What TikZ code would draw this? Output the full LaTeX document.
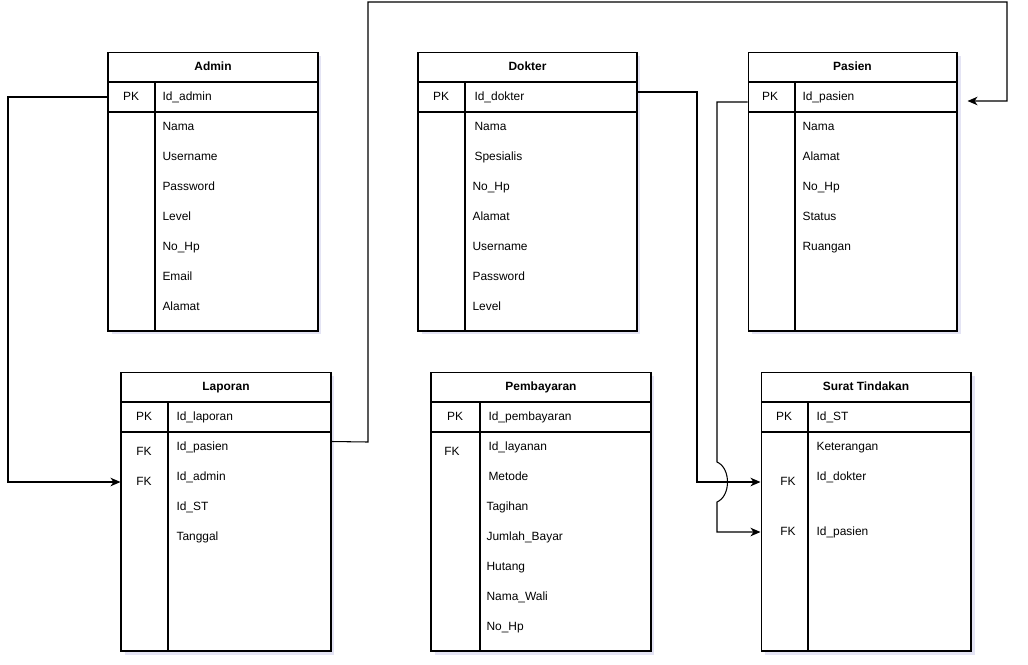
\documentclass[tikz,border=0pt]{standalone}
\usepackage{fontspec}
\setmainfont{Liberation Sans}
\usetikzlibrary{arrows.meta,calc,shadows}

\begin{document}
\begin{tikzpicture}[x=0.02cm,y=-0.02cm,line width=0.6pt,
    >={Stealth[length=2mm,width=1.7mm,inset=0.6mm]},
    every node/.style={font=\fontsize{6.8}{8}\selectfont},
    tbl/.style={draw,rectangle,inner sep=0pt,fill=white,minimum height=5.58cm,
      drop shadow={shadow xshift=2pt,shadow yshift=-2pt,opacity=0.15,fill=blue!40!gray}},
    title/.style={inner sep=0pt,text height=5pt,text depth=1.5pt,
      font=\fontsize{6.8}{8}\selectfont\bfseries},
    pkrow/.style={draw,rectangle,inner sep=0pt,minimum height=0.6cm},
    key/.style={inner sep=0pt,text height=5pt,text depth=1.5pt},
    field/.style={anchor=west,inner sep=0pt,text height=5pt,text depth=1.5pt}]
  \useasboundingbox (0,0) rectangle (1028,664);

  % Admin
  \node[tbl,minimum width=4.2cm] (admin) at (213,191.5) {};
  \node[title] (admin-title) at (213,67) {Admin};
  \node[pkrow,minimum width=4.2cm] (admin-pk) at (213,97) {};
  \draw (155,82) -- (155,331);
  \node[key] (admin-key) at (131,97) {PK};
  \node[field] (admin-id) at (162,97) {Id\_admin};
  \foreach \f [count=\i] in {Nama,Username,Password,Level,No\_Hp,Email,Alamat}
    \node[field] (admin-f\i) at (162,97+30*\i) {\f};

  % Dokter
  \node[tbl,minimum width=4.38cm] (dokter) at (527.5,191.5) {};
  \node[title] (dokter-title) at (527.5,67) {Dokter};
  \node[pkrow,minimum width=4.38cm] (dokter-pk) at (527.5,97) {};
  \draw (465,82) -- (465,331);
  \node[key] (dokter-key) at (441,97) {PK};
  \node[field] (dokter-id) at (474,97) {Id\_dokter};
  \node[field] (dokter-f1) at (474,127) {Nama};
  \node[field] (dokter-f2) at (474,157) {Spesialis};
  \foreach \f [count=\i from 3] in {No\_Hp,Alamat,Username,Password,Level}
    \node[field] (dokter-f\i) at (472,97+30*\i) {\f};

  % Pasien
  \node[tbl,minimum width=4.18cm] (pasien) at (852.5,191.5) {};
  \node[title] (pasien-title) at (852.5,67) {Pasien};
  \node[pkrow,minimum width=4.18cm] (pasien-pk) at (852.5,97) {};
  \draw (795,82) -- (795,331);
  \node[key] (pasien-key) at (770,97) {PK};
  \node[field] (pasien-id) at (802,97) {Id\_pasien};
  \foreach \f [count=\i] in {Nama,Alamat,No\_Hp,Status,Ruangan}
    \node[field] (pasien-f\i) at (802,97+30*\i) {\f};

  % Laporan
  \node[tbl,minimum width=4.2cm] (laporan) at (226,511.5) {};
  \node[title] (laporan-title) at (226,387) {Laporan};
  \node[pkrow,minimum width=4.2cm] (laporan-pk) at (226,417) {};
  \draw (168,402) -- (168,651);
  \node[key] (laporan-key) at (144,417) {PK};
  \node[field] (laporan-id) at (176,417) {Id\_laporan};
  \node[key] (laporan-fk1) at (144,452) {FK};
  \node[key] (laporan-fk2) at (144,482) {FK};
  \foreach \f [count=\i] in {Id\_pasien,Id\_admin,Id\_ST,Tanggal}
    \node[field] (laporan-f\i) at (176,417+30*\i) {\f};

  % Pembayaran
  \node[tbl,minimum width=4.4cm] (bayar) at (541,511.5) {};
  \node[title] (bayar-title) at (541,387) {Pembayaran};
  \node[pkrow,minimum width=4.4cm] (bayar-pk) at (541,417) {};
  \draw (480,402) -- (480,651);
  \node[key] (bayar-key) at (455,417) {PK};
  \node[field] (bayar-id) at (488,417) {Id\_pembayaran};
  \node[key] (bayar-fk1) at (452,452) {FK};
  \node[field] (bayar-f1) at (488,447) {Id\_layanan};
  \node[field] (bayar-f2) at (488,477) {Metode};
  \foreach \f [count=\i from 3] in {Tagihan,Jumlah\_Bayar,Hutang,Nama\_Wali,No\_Hp}
    \node[field] (bayar-f\i) at (486,417+30*\i) {\f};

  % Surat Tindakan
  \node[tbl,minimum width=4.2cm] (surat) at (866,511.5) {};
  \node[title] (surat-title) at (866,387) {Surat Tindakan};
  \node[pkrow,minimum width=4.2cm] (surat-pk) at (866,417) {};
  \draw (808,402) -- (808,651);
  \node[key] (surat-key) at (784,417) {PK};
  \node[field] (surat-id) at (816,417) {Id\_ST};
  \node[field] (surat-f1) at (816,447) {Keterangan};
  \node[key] (surat-fk1) at (788,482) {FK};
  \node[field] (surat-f2) at (816,477) {Id\_dokter};
  \node[key] (surat-fk2) at (788,532) {FK};
  \node[field] (surat-f3) at (816,532) {Id\_pasien};

  % relations
  \draw[->] (admin-pk.west) -- (8,97) |- (laporan.west |- laporan-fk2);
  \draw[->] ($(laporan.north east)+(0,70)$) -- (368,442) -- (368,2) -- (1007,2)
    |- ($(pasien-pk.east)+(10,4)$);
  \draw[->] ($(dokter-pk.east)+(0,-5)$) -| (697,482) -- (surat.west |- surat-fk1);
  \draw[->] ($(pasien-pk.west)+(0,5)$) -- (717,102) -- (717,462)
    .. controls (731,468) and (731,496) .. (717,502) -- (717,532)
    -- (surat.west |- surat-fk2);
\end{tikzpicture}
\end{document}
